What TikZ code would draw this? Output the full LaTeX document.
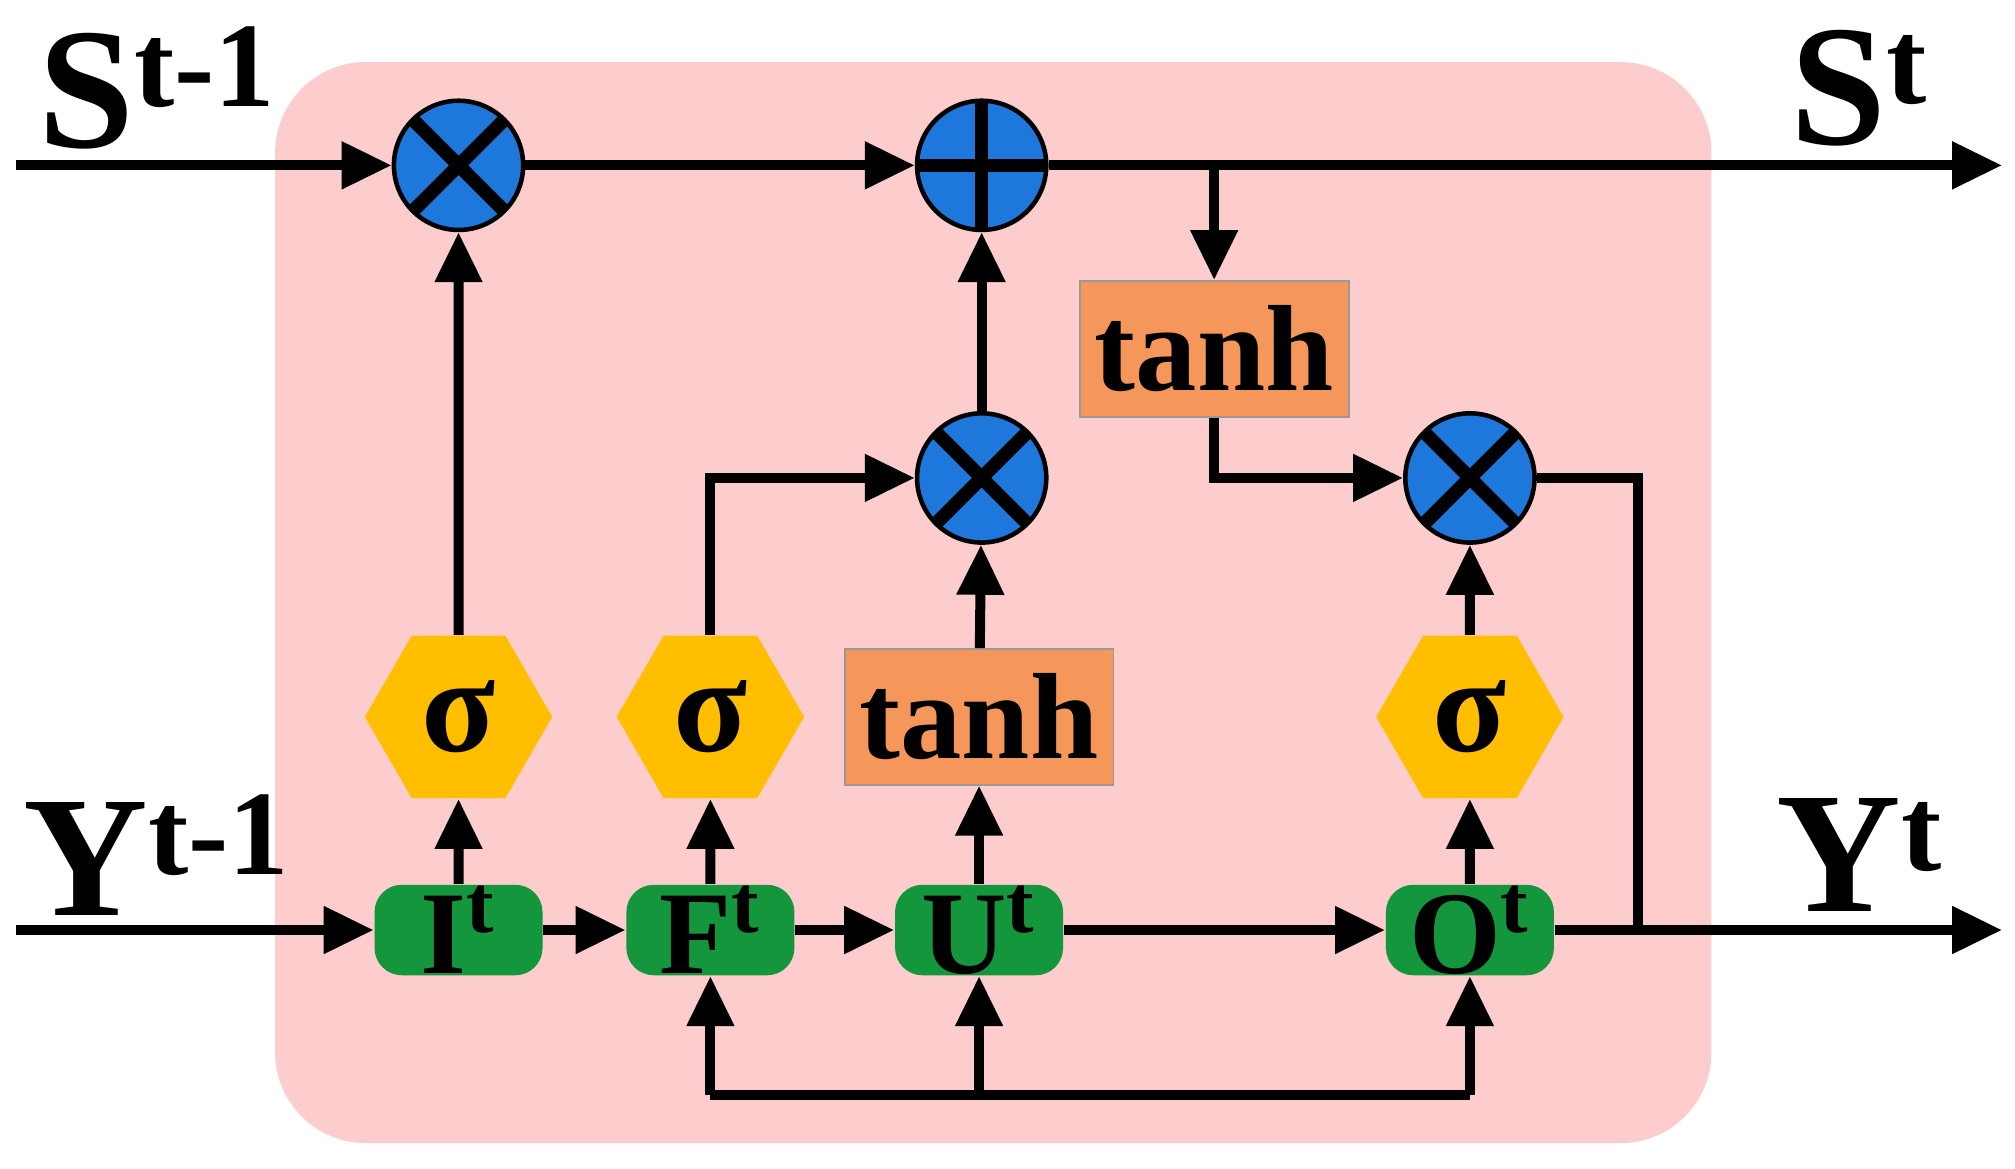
\documentclass[tikz,border=0pt]{standalone}
\usepackage{fontspec}
\setmainfont{Liberation Serif}
\usetikzlibrary{shapes.geometric,arrows.meta}
\definecolor{cellpink}{RGB}{253,204,204}
\definecolor{gateblue}{RGB}{30,120,220}
\definecolor{sigyellow}{RGB}{255,190,0}
\definecolor{tanhorange}{RGB}{245,150,90}
\definecolor{boxgreen}{RGB}{20,150,60}
\begin{document}
\begin{tikzpicture}[x=0.01cm,y=-0.01cm,
  >={Triangle[length=11pt,width=10pt]},
  flow/.style={->, line width=2.2pt},
  wire/.style={line width=2.2pt},
  op/.style={circle, draw=black, line width=1pt, fill=gateblue, minimum size=1cm, inner sep=0pt},
  mult/.style={op, path picture={\draw[line width=3pt] (path picture bounding box.north west) -- (path picture bounding box.south east) (path picture bounding box.north east) -- (path picture bounding box.south west);}},
  plus/.style={op, path picture={\draw[line width=3pt] (path picture bounding box.north) -- (path picture bounding box.south) (path picture bounding box.east) -- (path picture bounding box.west);}},
  sig/.style={regular polygon, regular polygon sides=6, fill=sigyellow, minimum size=1.45cm, inner sep=0pt, font=\fontsize{30}{32}\selectfont\bfseries},
  act/.style={rectangle, fill=tanhorange, draw=black!40, minimum width=2.05cm, minimum height=1.05cm, font=\fontsize{27}{30}\selectfont\bfseries},
  gate/.style={rectangle, rounded corners=6pt, fill=boxgreen, minimum width=1.3cm, minimum height=0.7cm, inner sep=0pt, font=\fontsize{26}{26}\selectfont\bfseries},
  lbl/.style={font=\fontsize{38}{40}\selectfont\bfseries}]
  \useasboundingbox (0,0) rectangle (1560,905);
  %% Cell body
  \fill[cellpink, rounded corners=20pt] (213,48) rectangle (1325,885);
  %% Operators
  \node[mult] (m1) at (355,128) {};
  \node[plus] (pl) at (760,128) {};
  \node[mult] (m2) at (760,370) {};
  \node[mult] (m3) at (1138,370) {};
  \node[act] (th1) at (940,270) {tanh};
  \node[act] (th2) at (758,555) {tanh};
  \node[sig] (s1) at (355,555) {σ};
  \node[sig] (s2) at (550,555) {σ};
  \node[sig] (s3) at (1138,555) {σ};
  %% Gates
  \node[gate] (gi) at (355,720) {I\textsuperscript{t}};
  \node[gate] (gf) at (550,720) {F\textsuperscript{t}};
  \node[gate] (gu) at (758,720) {U\textsuperscript{t}};
  \node[gate] (go) at (1138,720) {O\textsuperscript{t}};
  %% Ends and labels
  \coordinate (sin) at (12,128);
  \coordinate (sout) at (1550,128);
  \coordinate (yin) at (12,720);
  \coordinate (yout) at (1550,720);
  \coordinate (tap) at (1268,720);
  \coordinate (bus) at (758,848);
  \node[lbl] (lsin) at (122,68) {S\textsuperscript{t-1}};
  \node[lbl] (lsout) at (1440,68) {S\textsuperscript{t}};
  \node[lbl] (lyin) at (122,662) {Y\textsuperscript{t-1}};
  \node[lbl] (lyout) at (1440,662) {Y\textsuperscript{t}};
  %% Cell state
  \draw[flow] (sin) -- (m1);
  \draw[flow] (m1) -- (pl);
  \draw[flow] (pl) -- (sout);
  \draw[flow] (th1.north |- pl) -- (th1);
  %% Input path
  \draw[flow] (yin) -- (gi);
  \draw[flow] (gi) -- (gf);
  \draw[flow] (gf) -- (gu);
  \draw[flow] (gu) -- (go);
  \draw[flow] (go) -- (yout);
  \draw[flow] (gi) -- (s1);
  \draw[flow] (gf) -- (s2);
  \draw[flow] (gu) -- (th2);
  \draw[flow] (go) -- (s3);
  \draw[flow] (s1) -- (m1);
  \draw[flow] (s2.north) |- (m2);
  \draw[flow] (th2) -- (m2);
  \draw[flow] (m2) -- (pl);
  \draw[flow] (th1.south) |- (m3);
  \draw[flow] (s3) -- (m3);
  \draw[wire] (tap) |- (m3);
  %% Feedback bus
  \draw[wire] (gf |- bus) -- (go |- bus);
  \draw[flow] (gf |- bus) -- (gf);
  \draw[flow] (bus) -- (gu);
  \draw[flow] (go |- bus) -- (go);
\end{tikzpicture}
\end{document}
